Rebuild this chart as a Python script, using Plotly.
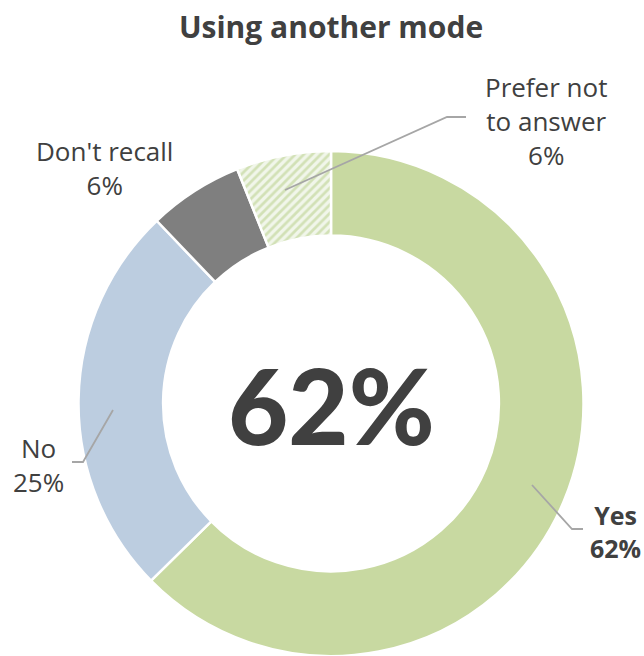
import plotly.graph_objects as go

categories = ["Yes", "No", "Don't recall", "Prefer not to answer"]
values = [62, 25, 6, 6]
label_texts = ["<b>Yes</b><br><b>62%</b>", "No<br>25%", "Don't recall<br>6%", "Prefer not<br>to answer<br>6%"]
center_text = "62%"
title_text = "Using another mode"

W, H = 644, 656
colors = ["#c8d9a1", "#bccde0", "#7f7f7f", "#eef4e6"]
font = "Open Sans"
txt_color = "#404040"

def px(x):
    return x / W

def py(y):
    return 1 - y / H

fig = go.Figure()
fig.add_trace(go.Pie(
    labels=categories,
    values=values,
    sort=False,
    direction="clockwise",
    rotation=0,
    hole=0.665,
    textinfo="none",
    hoverinfo="label+percent",
    marker=dict(
        colors=colors,
        line=dict(color="white", width=2.5),
        pattern=dict(
            shape=["", "", "", "/"],
            fgcolor=["#d2e1b6"] * 4,
            bgcolor=["#c8d9a1", "#bccde0", "#7f7f7f", "#f1f6ea"],
            size=6,
            solidity=0.45,
        ),
    ),
    domain=dict(x=[px(331 - 254), px(331 + 254)], y=[0, py(405 - 254)]),
    showlegend=False,
))

label_pos = {
    "Yes": (615, 531),
    "No": (38, 465),
    "Don't recall": (104, 168),
    "Prefer not to answer": (546, 121),
}
label_sizes = {"Yes": 25, "No": 26, "Don't recall": 26, "Prefer not to answer": 26}
annotations = []
for cat, txt in zip(categories, label_texts):
    x, y = label_pos[cat]
    annotations.append(dict(
        x=px(x), y=py(y), xref="paper", yref="paper", text=txt, showarrow=False,
        align="center", font=dict(family=font, size=label_sizes[cat], color=txt_color),
        xanchor="center", yanchor="middle",
    ))

annotations.append(dict(
    x=px(331), y=py(404), xref="paper", yref="paper", text=center_text,
    showarrow=False, font=dict(family="Lato", size=104, color=txt_color, weight=900),
    xanchor="center", yanchor="middle",
))

leaders = [
    [(466, 117), (447, 117), (285, 190)],
    [(72, 462), (83, 462), (113, 410)],
    [(583, 529), (572, 529), (532, 485)],
]
shapes = []
for pts in leaders:
    path = "M " + " L ".join(f"{px(a)},{py(b)}" for a, b in pts)
    shapes.append(dict(type="path", path=path, xref="paper", yref="paper",
                       line=dict(color="#a6a6a6", width=1.8)))

fig.update_layout(
    width=W, height=H,
    margin=dict(l=0, r=0, t=0, b=0),
    paper_bgcolor="white",
    plot_bgcolor="white",
    title=dict(text="<b>" + title_text + "</b>", x=px(331), xanchor="center", y=py(27), yanchor="middle",
               font=dict(family=font, size=30, color=txt_color)),
    annotations=annotations,
    shapes=shapes,
)

fig.write_html("out.html", config={"displayModeBar": False},
               post_script="document.body.style.margin='0';document.body.style.overflow='hidden';")
